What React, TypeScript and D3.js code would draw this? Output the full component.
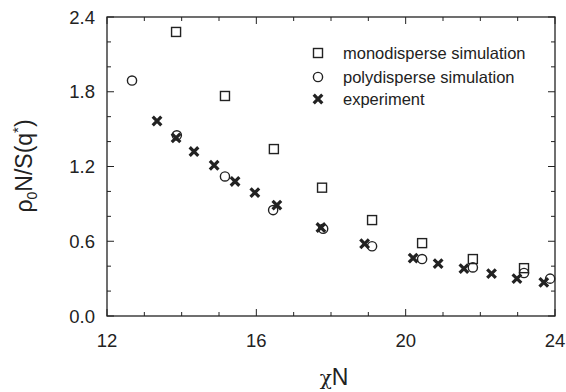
import React from "react";
import * as d3 from "d3";

const monoX = [13.85, 15.16, 16.47, 17.76, 19.1, 20.44, 21.8, 23.17];
const monoY = [2.28, 1.766, 1.34, 1.03, 0.77, 0.585, 0.457, 0.384];
const polyX = [12.67, 13.87, 15.16, 16.45, 17.79, 19.1, 20.44, 21.8, 23.17, 23.87];
const polyY = [1.89, 1.45, 1.12, 0.85, 0.7, 0.56, 0.457, 0.39, 0.345, 0.3];
const expX = [13.34, 13.85, 14.33, 14.87, 15.43, 15.96, 16.55, 17.73, 18.9, 20.2, 20.87, 21.56, 22.3, 22.98, 23.7];
const expY = [1.565, 1.43, 1.32, 1.21, 1.08, 0.99, 0.89, 0.71, 0.58, 0.465, 0.42, 0.38, 0.34, 0.3, 0.27];
const xMajor = [12, 16, 20, 24];
const yMajor = [0, 0.6, 1.2, 1.8, 2.4];
const legendLabels = ["monodisperse simulation", "polydisperse simulation", "experiment"];

const W = 566, H = 392;
const L = 107, R = 555, T = 17, B = 316;
const INK = "#222";

export default function App() {
  const x = d3.scaleLinear().domain([12, 24]).range([L, R]);
  const y = d3.scaleLinear().domain([0, 2.4]).range([B, T]);
  const xMinor = d3.range(12, 24.01, 1);
  const yMinor = d3.range(0, 2.41, 0.2);
  const font = "'Liberation Sans', Arial, sans-serif";

  const square = (cx: number, cy: number, k: string) => (
    <rect key={k} x={cx - 4.5} y={cy - 4.5} width={9} height={9} fill="white" stroke={INK} strokeWidth={1.4} />
  );
  const circle = (cx: number, cy: number, k: string) => (
    <circle key={k} cx={cx} cy={cy} r={4.6} fill="none" stroke={INK} strokeWidth={1.4} />
  );
  const cross = (cx: number, cy: number, k: string) => (
    <path key={k} d={`M${cx - 4.3},${cy - 4.3}L${cx + 4.3},${cy + 4.3}M${cx - 4.3},${cy + 4.3}L${cx + 4.3},${cy - 4.3}`} stroke={INK} strokeWidth={3.2} />
  );

  const legY = [53, 77, 99];
  const markers = [square, circle, cross];

  return (
    <svg width={W} height={H} style={{ display: "block", position: "absolute", left: 0, top: 0 }} fontFamily={font}>
      <rect x={0} y={0} width={W} height={H} fill="white" />
      {xMinor.map((v) => {
        const major = xMajor.some((m) => Math.abs(m - v) < 1e-6);
        const len = major ? 7 : 4;
        return (
          <g key={"xt" + v} stroke={INK} strokeWidth={1}>
            <line x1={x(v)} x2={x(v)} y1={B} y2={B - len} />
            <line x1={x(v)} x2={x(v)} y1={T} y2={T + len} />
          </g>
        );
      })}
      {yMinor.map((v) => {
        const major = yMajor.some((m) => Math.abs(m - v) < 1e-6);
        const len = major ? 7 : 4;
        return (
          <g key={"yt" + v} stroke={INK} strokeWidth={1}>
            <line x1={L} x2={L + len} y1={y(v)} y2={y(v)} />
            <line x1={R} x2={R - len} y1={y(v)} y2={y(v)} />
          </g>
        );
      })}
      <rect x={L} y={T} width={R - L} height={B - T} fill="none" stroke={INK} strokeWidth={1.3} />
      {xMajor.map((v) => (
        <text key={"xl" + v} x={x(v)} y={347} textAnchor="middle" fontSize={18.5} fill={INK}>{v}</text>
      ))}
      {yMajor.map((v) => (
        <text key={"yl" + v} x={95} y={y(v) + 6.5} textAnchor="end" fontSize={18.5} fill={INK}>{v.toFixed(1)}</text>
      ))}
      <text x={334} y={385} textAnchor="middle" fontSize={23} fill={INK}>
        <tspan fontFamily="'DejaVu Serif', serif" fontSize={20}>χ</tspan>N
      </text>
      <text transform="translate(32,166) rotate(-90)" textAnchor="middle" fontSize={23} fill={INK}>
        ρ<tspan fontSize={14} dy={5}>0</tspan><tspan dy={-5}>N/S(q</tspan><tspan fontSize={15} dy={-9}>*</tspan><tspan dy={9}>)</tspan>
      </text>
      {monoX.map((v, i) => square(x(v), y(monoY[i]), "m" + i))}
      {polyX.map((v, i) => circle(x(v), y(polyY[i]), "p" + i))}
      {expX.map((v, i) => cross(x(v), y(expY[i]), "e" + i))}
      {legendLabels.map((lab, i) => (
        <g key={"lg" + i}>
          {markers[i](318, legY[i], "lm" + i)}
          <text x={343} y={legY[i] + 6} fontSize={16.5} fill={INK}>{lab}</text>
        </g>
      ))}
    </svg>
  );
}
